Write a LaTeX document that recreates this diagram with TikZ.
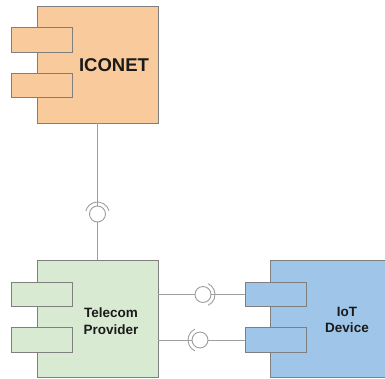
\documentclass[tikz,border=0pt]{standalone}
\usepackage{fontspec}
\setmainfont{Liberation Sans}
\usetikzlibrary{positioning}
\definecolor{iconetfill}{HTML}{F9CB9C}
\definecolor{telecomfill}{HTML}{D9EAD3}
\definecolor{iotfill}{HTML}{9FC5E8}
\definecolor{boxline}{HTML}{7F7F7F}
\definecolor{wireline}{HTML}{9E9E9E}
\definecolor{labeltext}{HTML}{1A1A1A}
\tikzset{
  comp/.style={draw=boxline, line width=0.9pt, inner sep=0pt},
  port/.style={draw=boxline, line width=0.9pt, inner sep=0pt, minimum width=61pt, minimum height=24.5pt},
  wire/.style={draw=wireline, line width=0.9pt},
  ball/.style={circle, draw=wireline, line width=0.9pt, fill=white, minimum size=16pt, inner sep=0pt},
  complabel/.style={text=labeltext, align=center, font=\bfseries\fontsize{13.5}{16.5}\selectfont}
}
\begin{document}
\begin{tikzpicture}[x=1pt, y=-1pt]
  \useasboundingbox (0,0) rectangle (385,378);
  % ICONET component
  \node[comp, fill=iconetfill, minimum width=121pt, minimum height=117pt] (iconet) at (97.5,64.5) {};
  \foreach \i/\y in {1/40, 2/85.5} {
    \node[port, fill=iconetfill] (iconetp\i) at (42,\y) {};
  }
  \node[complabel, font=\bfseries\fontsize{18.5}{22}\selectfont] (iconetlabel) at (114,65) {ICONET};
  % Telecom Provider component
  \node[comp, fill=telecomfill, minimum width=121pt, minimum height=117pt] (telecom) at (97.5,318.5) {};
  \foreach \i/\y in {1/294.5, 2/340} {
    \node[port, fill=telecomfill] (telecomp\i) at (42,\y) {};
  }
  \node[complabel] (telecomlabel) at (111,321) {Telecom\\Provider};
  % IoT Device component
  \node[comp, fill=iotfill, minimum width=115pt, minimum height=117pt] (iot) at (327.5,318.5) {};
  \foreach \i/\y in {1/294.5, 2/340} {
    \node[port, fill=iotfill] (iotp\i) at (275.5,\y) {};
  }
  \node[complabel] (iotlabel) at (347,320) {IoT\\Device};
  % ICONET -- Telecom Provider (ball and socket)
  \node[ball] (ballup) at (97.5,214) {};
  \draw[wire] (iconet.south) -- (ballup.north);
  \draw[wire] (ballup.south) -- (telecom.north);
  \draw[wire] (ballup.center) ++(15:12pt) arc[start angle=15, end angle=165, radius=12pt];
  % Telecom Provider -- IoT Device, upper
  \node[ball] (ballright) at (203,294.5) {};
  \draw[wire] (telecom.east |- ballright) -- (ballright.west);
  \draw[wire] (ballright.east) -- (iotp1.west);
  \draw[wire] (ballright.center) ++(-65:12pt) arc[start angle=-65, end angle=65, radius=12pt];
  % Telecom Provider -- IoT Device, lower
  \node[ball] (ballleft) at (200,340) {};
  \draw[wire] (telecom.east |- ballleft) -- (ballleft.west);
  \draw[wire] (ballleft.east) -- (iotp2.west);
  \draw[wire] (ballleft.center) ++(115:12pt) arc[start angle=115, end angle=245, radius=12pt];
\end{tikzpicture}
\end{document}
